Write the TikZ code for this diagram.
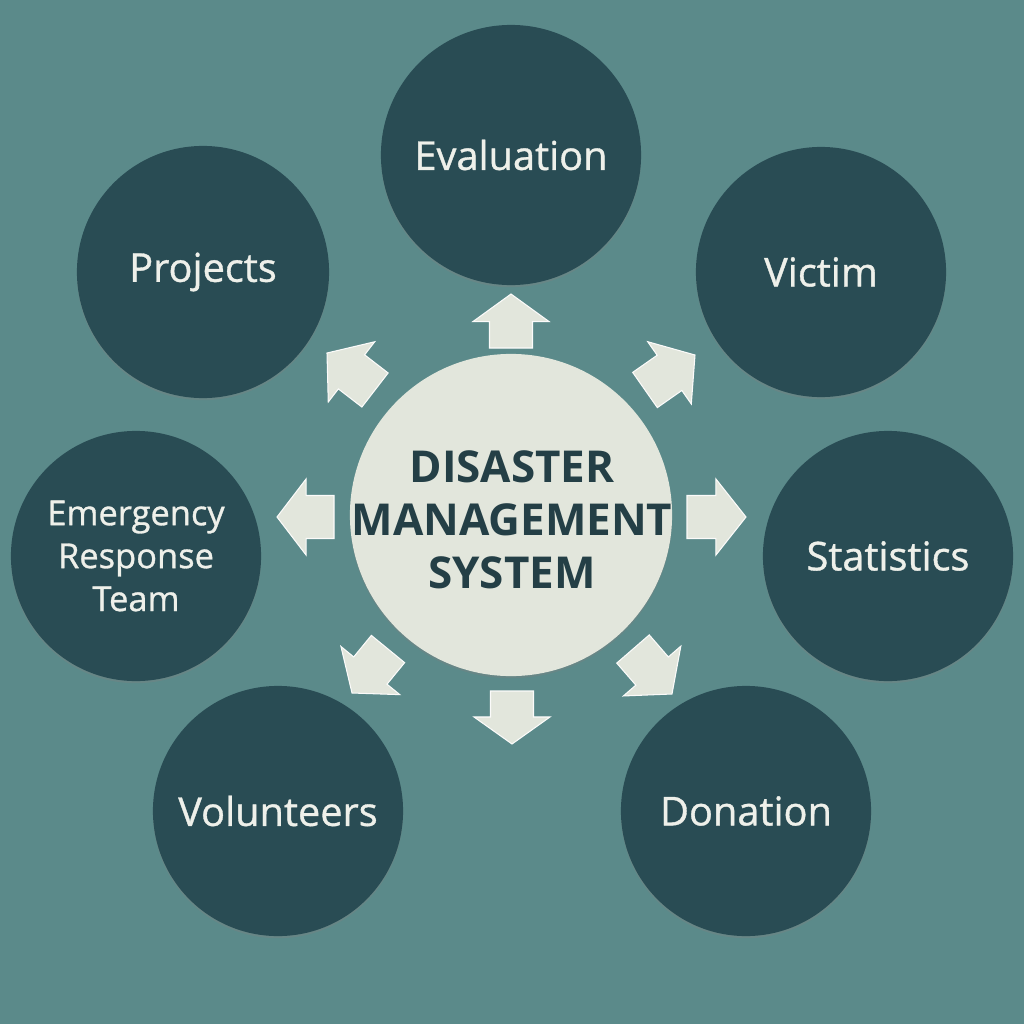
\documentclass[tikz,border=0pt]{standalone}
\usepackage{fontspec}
\setmainfont{Open Sans}
\newfontfamily\medfont{Open Sans}[FakeBold=0.9]
\usetikzlibrary{calc,shadows}
\definecolor{bgteal}{HTML}{5B8A8A}
\definecolor{darkc}{HTML}{294C54}
\definecolor{lightc}{HTML}{E2E6DC}
\definecolor{txtlight}{HTML}{EEF0EA}
\definecolor{txtdark}{HTML}{243F46}
\tikzset{
  outer/.style={circle, fill=darkc, minimum size=2.5cm, inner sep=0pt, text=txtlight,
    align=center, font=\medfont\fontsize{11.3}{12}\selectfont,
    drop shadow={shadow xshift=0pt, shadow yshift=-0.6pt, opacity=0.35}},
  hub/.style={circle, fill=lightc, minimum size=3.22cm, inner sep=0pt,
    drop shadow={shadow xshift=0pt, shadow yshift=-0.6pt, opacity=0.35}},
  hubtext/.style={text=txtdark, align=center, inner sep=0pt,
    font=\fontsize{12.5}{15.1}\selectfont\bfseries},
  arrowfill/.style={fill=lightc, draw=white!85!lightc, line width=0.3pt, line join=miter}
}
\newcommand\blockarr[2]{%
  \coordinate (hh) at ($(#1)!0.49!(#2)$);
  \fill[arrowfill] ($(#1)!0.215cm!90:(#2)$) -- ($(hh)!0.215cm!90:(#2)$) -- ($(hh)!0.38cm!90:(#2)$)
    -- (#2) -- ($(hh)!0.38cm!-90:(#2)$) -- ($(hh)!0.215cm!-90:(#2)$) -- ($(#1)!0.215cm!-90:(#2)$) -- cycle;}
\begin{document}
\begin{tikzpicture}[x=0.01cm,y=-0.01cm]
\fill[bgteal] (0,0) rectangle (1024,1024);
\useasboundingbox (0,0) rectangle (1024,1024);

\node[hub] (dms) at (511,515) {};
\node[hubtext] (dmstext) at (512,520) {DISASTER\\MANAGEMENT\\SYSTEM};
\node[outer, minimum size=2.6cm] (eval) at (511,155) {Evaluation};
\node[outer, minimum size=2.52cm] (proj) at (203,272) {Projects};
\node[outer] (vict) at (821,272) {Victim};
\node[outer, font=\medfont\fontsize{9.8}{12.2}\selectfont] (ert) at (136,556) {Emergency\\Response\\Team};
\node[outer] (stat) at (888,556) {Statistics};
\node[outer] (vol) at (278,811) {Volunteers};
\node[outer] (don) at (746,811) {Donation};

% arrow base and tip coordinates
\coordinate (b1) at (511,348); \coordinate (t1) at (511,294);
\coordinate (b2) at (375,390); \coordinate (t2) at (327,353);
\coordinate (b3) at (334,517); \coordinate (t3) at (277,517);
\coordinate (b4) at (388,649); \coordinate (t4) at (352,693);
\coordinate (b5) at (512,691); \coordinate (t5) at (512,744);
\coordinate (b6) at (633,649); \coordinate (t6) at (672,694);
\coordinate (b7) at (687,517); \coordinate (t7) at (746,517);
\coordinate (b8) at (645,390); \coordinate (t8) at (695,355);
\foreach \i in {1,...,8} {\blockarr{b\i}{t\i}}
\end{tikzpicture}
\end{document}
